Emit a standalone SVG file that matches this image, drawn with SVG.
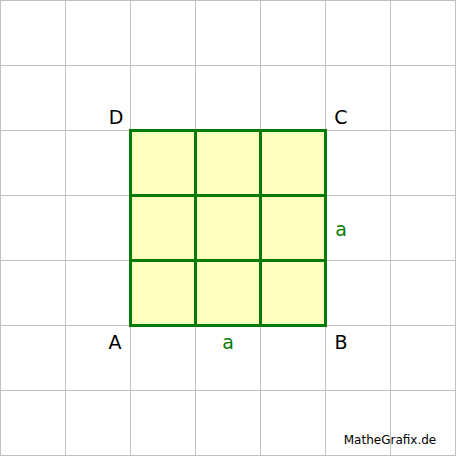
<svg xmlns="http://www.w3.org/2000/svg" width="456" height="456" viewBox="0 0 456 456">
<style>
.grid{stroke:#c0c0c0;stroke-width:1;fill:none}
.sq{stroke:#087a08;stroke-width:3;fill:none}
.lbl{font-family:"DejaVu Sans","Liberation Sans",sans-serif;font-size:19px;fill:#000;text-anchor:middle}
.g{fill:#087a08}
.credit{font-family:"DejaVu Sans","Liberation Sans",sans-serif;font-size:12px;fill:#000;text-anchor:middle}
</style>
<rect x="0" y="0" width="456" height="456" fill="#fff"/>
<g id="grid" class="grid">
<path d="M0.5 0V456M65.5 0V456M130.5 0V456M195.5 0V456M260.5 0V456M325.5 0V456M390.5 0V456M455.5 0V456M0 0.5H456M0 65.5H456M0 130.5H456M0 195.5H456M0 260.5H456M0 325.5H456M0 390.5H456M0 455.5H456"/>
</g>
<g id="square">
<rect x="130.5" y="130.5" width="195" height="195" fill="#ffffc0"/>
<path class="sq" d="M195.5 130.5V325.5M260.5 130.5V325.5M130.5 195.5H325.5M130.5 260.5H325.5"/>
<rect class="sq" x="130.5" y="130.5" width="195" height="195"/>
</g>
<g id="labels">
<text class="lbl" x="116" y="124">D</text>
<text class="lbl" x="341" y="124">C</text>
<text class="lbl" x="115" y="349">A</text>
<text class="lbl" x="341" y="349">B</text>
<text class="lbl g" x="228" y="349">a</text>
<text class="lbl g" x="341" y="236">a</text>
</g>
<text class="credit" x="390" y="444">MatheGrafix.de</text>
</svg>
